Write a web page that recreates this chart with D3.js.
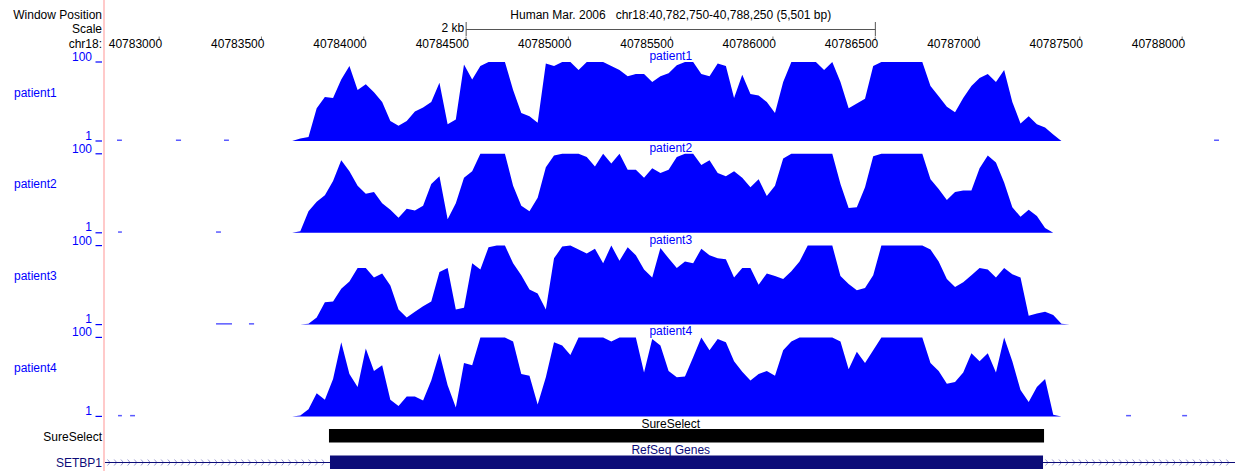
<!DOCTYPE html>
<html>
<head>
<meta charset="utf-8">
<script src="https://cdn.jsdelivr.net/npm/d3@7"></script>
<style>
  body { margin: 0; background: #fff; }
  text { font-family: "Liberation Sans", Arial, sans-serif; font-size: 12px; }
</style>
</head>
<body>
<div id="chart"></div>
<script>
// window and ruler
const chromName = "chr18";
const chromStart = 40782750, chromEnd = 40788251;
const rulerTicks = [40783000, 40783500, 40784000, 40784500, 40785000, 40785500,
                    40786000, 40786500, 40787000, 40787500, 40788000];
const scaleBarBp = 2000;

// coverage bins (40 bp each, starting at binStart)
const binStart = 40783650, binSize = 40;
const trackNames = ["patient1", "patient2", "patient3", "patient4"];

const patient1 = [0, 4, 6, 42, 56, 55, 78, 95, 65, 72, 62, 50, 26, 20, 26, 38, 43, 50, 74, 22,
  28, 97, 78, 95, 100, 100, 100, 65, 36, 32, 24, 98, 95, 100, 100, 90, 100, 100, 100, 95,
  90, 82, 85, 85, 75, 82, 86, 96, 100, 100, 85, 82, 98, 95, 55, 84, 60, 58, 50, 36,
  75, 100, 100, 100, 100, 90, 100, 75, 42, 48, 54, 95, 100, 100, 100, 100, 100, 100, 70, 57,
  44, 37, 55, 70, 80, 85, 75, 90, 50, 23, 32, 22, 18, 9, 1, 0];
const patient2 = [0, 3, 28, 40, 48, 66, 92, 78, 60, 50, 52, 38, 30, 20, 31, 29, 35, 62, 72, 18,
  38, 70, 78, 100, 100, 100, 100, 60, 35, 28, 45, 83, 98, 100, 100, 100, 96, 84, 100, 88,
  100, 80, 80, 70, 82, 76, 80, 96, 100, 100, 86, 92, 76, 72, 78, 70, 58, 68, 47, 60,
  94, 100, 100, 100, 100, 100, 100, 62, 32, 33, 58, 97, 100, 100, 100, 100, 100, 100, 68, 56,
  42, 52, 54, 54, 82, 98, 89, 64, 33, 21, 30, 22, 7, 1, 0, 0];
const patient3 = [0, 0, 2, 10, 29, 30, 46, 55, 72, 72, 60, 65, 50, 20, 10, 17, 24, 30, 67, 72,
  20, 22, 78, 70, 98, 100, 100, 78, 63, 45, 40, 20, 84, 99, 100, 95, 90, 96, 78, 100,
  81, 98, 88, 70, 60, 97, 84, 72, 80, 78, 96, 88, 84, 83, 60, 72, 72, 51, 65, 62,
  58, 68, 80, 100, 100, 100, 100, 62, 52, 44, 47, 63, 100, 100, 100, 100, 100, 100, 95, 80,
  58, 48, 54, 63, 72, 70, 60, 72, 64, 60, 12, 15, 17, 13, 2, 0];
const patient4 = [0, 2, 10, 30, 22, 48, 94, 54, 38, 86, 58, 65, 22, 14, 26, 26, 21, 46, 80, 40,
  12, 68, 65, 100, 100, 100, 100, 95, 54, 52, 16, 50, 94, 90, 78, 100, 100, 100, 100, 95,
  100, 100, 100, 56, 98, 90, 58, 50, 51, 75, 100, 84, 98, 94, 70, 57, 46, 54, 58, 52,
  84, 95, 100, 100, 100, 100, 100, 95, 60, 82, 68, 84, 100, 100, 100, 100, 100, 100, 68, 58,
  42, 44, 56, 80, 70, 80, 56, 100, 70, 34, 19, 38, 48, 3, 0, 0];

// scattered single reads outside the target region [start, end]
const lowReads1 = [[40782794, 40782818], [40783082, 40783107], [40783317, 40783341], [40788156, 40788180]];
const lowReads2 = [[40782799, 40782818], [40783278, 40783302]];
const lowReads3 = [[40783278, 40783356], [40783439, 40783464]];
const lowReads4 = [[40782799, 40782818], [40782858, 40782882], [40787726, 40787750], [40788000, 40788024]];

const sureSelect = [40783830, 40787325];
const setbp1 = [40783835, 40787320];

const coverage = [patient1, patient2, patient3, patient4];
const lowReads = [lowReads1, lowReads2, lowReads3, lowReads4];

const width = 1235, height = 471;
const labelEdge = 104;
const blue = "#0000ff", navy = "#0c0c78";

const svg = d3.select("#chart").append("svg")
    .attr("width", width)
    .attr("height", height);

const x = d3.scaleLinear().domain([chromStart, chromEnd]).range([108, 1233.5]);

// pink guide line at the left of the data area
svg.append("line")
    .attr("x1", labelEdge).attr("x2", labelEdge)
    .attr("y1", 0).attr("y2", height)
    .attr("stroke", "#ffcaca").attr("stroke-width", 2);

// header
svg.append("text").attr("x", 102).attr("y", 19).attr("text-anchor", "end").text("Window Position");
svg.append("text").attr("x", 102).attr("y", 33).attr("text-anchor", "end").text("Scale");
svg.append("text").attr("x", 102).attr("y", 48).attr("text-anchor", "end").text(chromName + ":");

const fmt = d3.format(",");
const mid = (x.range()[0] + x.range()[1]) / 2;
svg.append("text").attr("x", mid).attr("y", 19).attr("text-anchor", "middle")
    .attr("xml:space", "preserve")
    .text(`Human Mar. 2006   ${chromName}:${fmt(chromStart)}-${fmt(chromEnd - 1)} (${fmt(chromEnd - chromStart)} bp)`);

const barPx = x(chromStart + scaleBarBp) - x(chromStart);
const bar = svg.append("g").attr("stroke", "#555").attr("stroke-width", 1);
bar.append("line").attr("x1", mid - barPx / 2).attr("x2", mid + barPx / 2).attr("y1", 29.5).attr("y2", 29.5);
bar.append("line").attr("x1", mid - barPx / 2).attr("x2", mid - barPx / 2).attr("y1", 22).attr("y2", 36);
bar.append("line").attr("x1", mid + barPx / 2).attr("x2", mid + barPx / 2).attr("y1", 22).attr("y2", 36);
svg.append("text").attr("x", mid - barPx / 2 - 2).attr("y", 32).attr("text-anchor", "end")
    .text((scaleBarBp / 1000) + " kb");

// base position ruler
const ruler = svg.append("g");
ruler.selectAll("line").data(rulerTicks).enter().append("line")
    .attr("x1", d => x(d)).attr("x2", d => x(d))
    .attr("y1", 36.5).attr("y2", 39.5)
    .attr("stroke", "#777");
ruler.selectAll("text").data(rulerTicks).enter().append("text")
    .attr("x", d => x(d) + 3).attr("y", 47.5).attr("text-anchor", "end")
    .text(d => d);

// coverage tracks
const bins = d3.range(patient1.length).map(i => binStart + i * binSize);
const trackH = 79, firstTop = 62, trackStep = 91.8;

trackNames.forEach((name, i) => {
    const top = firstTop + i * trackStep, base = top + trackH;
    const y = d3.scaleLinear().domain([1, 100]).range([base, top]).clamp(true);
    const g = svg.append("g");

    g.append("path")
        .datum(coverage[i])
        .attr("fill", blue)
        .attr("d", d3.area()
            .x((d, j) => x(bins[j]))
            .y0(base)
            .y1(d => y(d)));

    g.selectAll(".low").data(lowReads[i]).enter().append("rect")
        .attr("class", "low")
        .attr("x", d => x(d[0])).attr("width", d => x(d[1]) - x(d[0]))
        .attr("y", base - 1.5).attr("height", 1.5)
        .attr("fill", "#5a5aff");

    // y range labels
    g.append("text").attr("x", 92).attr("y", top - 1).attr("text-anchor", "end").attr("fill", blue).text("100");
    g.append("text").attr("x", 92).attr("y", base - 1.5).attr("text-anchor", "end").attr("fill", blue).text("1");
    [top, base].forEach(v => g.append("line")
        .attr("x1", 95.5).attr("x2", 102).attr("y1", v).attr("y2", v)
        .attr("stroke", blue).attr("stroke-width", 1.2));

    g.append("text").attr("x", 14).attr("y", (top + base) / 2 - 5).attr("fill", blue).text(name);
    g.append("text").attr("x", mid).attr("y", top - 2).attr("text-anchor", "middle").attr("fill", blue).text(name);
});

// SureSelect target track
svg.append("text").attr("x", 102).attr("y", 440.5).attr("text-anchor", "end").attr("fill", "#000").text("SureSelect");
svg.append("text").attr("x", mid).attr("y", 427.5).attr("text-anchor", "middle").attr("fill", "#000").text("SureSelect");
svg.append("rect")
    .attr("x", x(sureSelect[0])).attr("width", x(sureSelect[1]) - x(sureSelect[0]))
    .attr("y", 429).attr("height", 13.5)
    .attr("fill", "#000");

// RefSeq genes track
svg.append("text").attr("x", 102).attr("y", 467).attr("text-anchor", "end").attr("fill", navy).text("SETBP1");
svg.append("text").attr("x", mid).attr("y", 453.5).attr("text-anchor", "middle").attr("fill", navy).text("RefSeq Genes");

const geneY = 462.5;
const chevrons = d3.range(labelEdge + 6, width, 6.7)
    .filter(px => px < x(setbp1[0]) - 1 || px > x(setbp1[1]) + 4);
svg.append("g").selectAll("path").data(chevrons).enter().append("path")
    .attr("d", px => `M${px - 2.5},${geneY - 3}L${px},${geneY}L${px - 2.5},${geneY + 3}`)
    .attr("fill", "none").attr("stroke", "#9a9ad2").attr("stroke-width", 1);
svg.append("line")
    .attr("x1", labelEdge + 1).attr("x2", width)
    .attr("y1", geneY).attr("y2", geneY)
    .attr("stroke", navy).attr("stroke-width", 1);
svg.append("rect")
    .attr("x", x(setbp1[0])).attr("width", x(setbp1[1]) - x(setbp1[0]))
    .attr("y", 455.5).attr("height", 13.5)
    .attr("fill", navy);
</script>
</body>
</html>
